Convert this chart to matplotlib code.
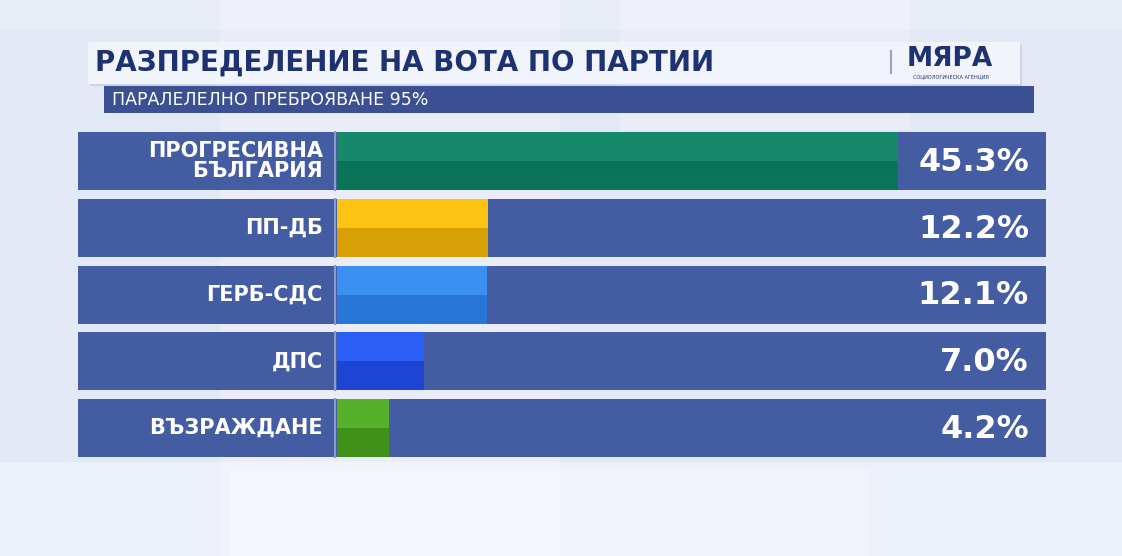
import numpy as np
import matplotlib.pyplot as plt
from matplotlib.patches import Rectangle
from matplotlib.transforms import blended_transform_factory

# Data
parties = ["ПРОГРЕСИВНА\nБЪЛГАРИЯ", "ПП-ДБ", "ГЕРБ-СДС", "ДПС", "ВЪЗРАЖДАНЕ"]
shares = [45.3, 12.2, 12.1, 7.0, 4.2]
top_colors = ["#17896b", "#ffc313", "#3b8ff0", "#2b5ef4", "#56b02b"]
bottom_colors = ["#0b7358", "#d9a006", "#2877d6", "#1c45d4", "#3f9119"]

title = "РАЗПРЕДЕЛЕНИЕ НА ВОТА ПО ПАРТИИ"
subtitle = "ПАРАЛЕЛЕЛНО ПРЕБРОЯВАНЕ 95%"

plt.rcParams['font.family'] = ['DejaVu Sans']

W, H = 1122, 556
navy = "#1e3170"
panel = "#445ca1"

fig = plt.figure(figsize=(W / 100, H / 100), dpi=100)
fig.patch.set_facecolor("#e3e8f6")

# background axes in pixel coordinates
bg = fig.add_axes([0, 0, 1, 1])
bg.set_xlim(0, W)
bg.set_ylim(H, 0)
bg.axis('off')

# faint studio panels
for x0, y0, w, h, a in [(220, 0, 340, 556, 0.25), (620, 0, 290, 130, 0.25),
                        (0, 462, 1122, 94, 0.35), (230, 470, 640, 86, 0.25), (0, 0, 1122, 30, 0.2)]:
    bg.add_patch(Rectangle((x0, y0), w, h, color="white", alpha=a, lw=0))

# title box
bg.add_patch(Rectangle((90, 44), 932, 42, color="#b8c0d8", alpha=0.5, lw=0))
bg.add_patch(Rectangle((88, 42), 932, 42, color="#f2f4fb", lw=0))
bg.text(95, 63, title, color=navy, fontsize=20, fontweight='bold', va='center', ha='left')
bg.plot([891, 891], [51, 73], color="#9aa3bb", lw=1.5)
bg.text(950, 59, "МЯРА", color=navy, fontsize=19, fontweight='bold', va='center', ha='center')
bg.text(951, 77, "СОЦИОЛОГИЧЕСКА АГЕНЦИЯ", color=navy, fontsize=3.6, va='center', ha='center')

# subtitle band
bg.add_patch(Rectangle((104, 86), 930, 27, color="#3c4f93", lw=0))
bg.text(112, 100, subtitle, color="white", fontsize=12.5, va='center', ha='left')

# row panels
row_top, pitch, row_h = 132, 66.75, 58
for i in range(len(parties)):
    y0 = row_top + i * pitch
    bg.add_patch(Rectangle((78, y0), 968, row_h, color=panel, lw=0))
    bg.plot([335, 335], [y0, y0 + row_h], color="#8a9ccb", lw=1.5)

# bar axes
bar_left, bar_right = 337, 1046
px_per_pct = (898 - bar_left) / 45.3
ax_h = (len(parties) - 1) * pitch + row_h
ax = fig.add_axes([bar_left / W, (H - row_top - ax_h) / H, (bar_right - bar_left) / W, ax_h / H])
ax.set_xlim(0, (bar_right - bar_left) / px_per_pct)
h = row_h / pitch
ax.set_ylim(len(parties) - 1 + h / 2, -h / 2)
ax.axis('off')
ax.patch.set_alpha(0)

y = np.arange(len(parties))
ax.barh(y - h / 4, shares, height=h / 2, color=top_colors, lw=0)
ax.barh(y + h / 4, shares, height=h / 2, color=bottom_colors, lw=0)

trans = blended_transform_factory(bg.transData, ax.transData)
for i, (name, val) in enumerate(zip(parties, shares)):
    bg.text(323, i, name, transform=trans, color="white", fontsize=15, fontweight='bold',
            ha='right', va='center', linespacing=1.0)
    bg.text(1029, i + 0.02, f"{val:.1f}%", transform=trans, color="white", fontsize=23, fontweight='bold',
            ha='right', va='center')

fig.savefig("out.png", dpi=100)
